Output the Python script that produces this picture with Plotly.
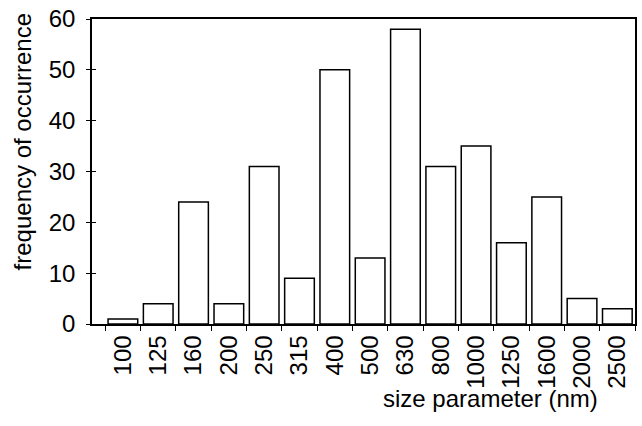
import plotly.graph_objects as go

# size classes (nm) and how often each occurred
size_classes = ["100", "125", "160", "200", "250", "315", "400", "500",
                "630", "800", "1000", "1250", "1600", "2000", "2500"]
frequency = [1, 4, 24, 4, 31, 9, 50, 13, 58, 31, 35, 16, 25, 5, 3]

y_ticks = [0, 10, 20, 30, 40, 50, 60]

FONT = "Arial, Liberation Sans, sans-serif"

fig = go.Figure()
fig.add_trace(go.Bar(
    x=size_classes,
    y=frequency,
    marker=dict(color="white", line=dict(color="black", width=1.5)),
    showlegend=False,
))

fig.update_layout(
    width=642,
    height=426,
    margin=dict(l=92, r=5, t=16, b=102),
    paper_bgcolor="white",
    plot_bgcolor="white",
    bargap=0.16,
    font=dict(family=FONT, size=24, color="black"),
    xaxis=dict(
        type="category",
        tickangle=-90,
        tickson="boundaries",
        ticks="outside",
        ticklen=5,
        tickwidth=1,
        tickcolor="black",
        showline=True,
        linecolor="black",
        linewidth=1.5,
        mirror=True,
        showgrid=False,
        tickfont=dict(size=24),
    ),
    yaxis=dict(
        range=[0, 60],
        tickvals=y_ticks,
        ticks="outside",
        ticklen=4,
        tickwidth=1,
        tickcolor="black",
        ticklabelstandoff=6,
        showline=True,
        linecolor="black",
        linewidth=1.5,
        mirror=True,
        showgrid=False,
        zeroline=False,
        tickfont=dict(size=24),
    ),
    # inner half of the crossing tick marks on the value axis
    yaxis2=dict(
        overlaying="y",
        side="left",
        range=[0, 60],
        tickvals=y_ticks,
        ticks="inside",
        ticklen=4,
        tickwidth=1,
        tickcolor="black",
        showticklabels=False,
        showgrid=False,
        zeroline=False,
        showline=False,
    ),
)

# invisible trace to activate the secondary axis
fig.add_trace(go.Scatter(x=[size_classes[0]], y=[0], yaxis="y2",
                         mode="markers", marker=dict(opacity=0),
                         showlegend=False, hoverinfo="skip"))

fig.add_annotation(
    text="size parameter (nm)",
    xref="paper", yref="paper",
    x=0.733, y=-0.243,
    xanchor="center", yanchor="middle",
    showarrow=False,
    font=dict(family=FONT, size=24, color="black"),
)
fig.add_annotation(
    text="frequency of occurrence",
    xref="paper", yref="paper",
    x=-0.128, y=0.597,
    xanchor="center", yanchor="middle",
    textangle=-90,
    showarrow=False,
    font=dict(family=FONT, size=24, color="black"),
)

fig.write_html("out.html")
